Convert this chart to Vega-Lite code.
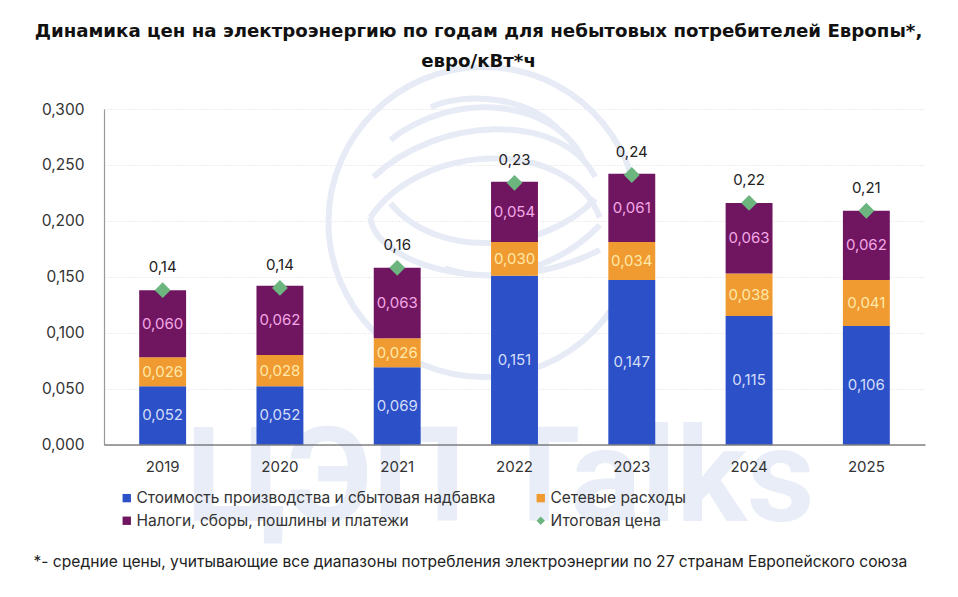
{"$schema":"https://vega.github.io/schema/vega-lite/v6.json","width":821,"height":335.5,"autosize":{"type":"none"},"padding":{"left":104,"top":109,"right":33,"bottom":152.5},"background":"white","config":{"locale":{"number":{"decimal":",","thousands":" ","grouping":[3],"currency":["","€"]}},"view":{"stroke":null},"font":"Inter"},"title":{"text":["Динамика цен на электроэнергию по годам для небытовых потребителей Европы*,","евро/кВт*ч"],"font":"DejaVu Sans","fontSize":18.2,"fontWeight":700,"color":"#111111","anchor":"middle","frame":"group","dx":-36,"offset":-16,"lineHeight":30},"datasets":{"bars":[{"year":"2019","series":"Стоимость производства и сбытовая надбавка","value":0.052,"ord":1},{"year":"2019","series":"Сетевые расходы","value":0.026,"ord":2},{"year":"2019","series":"Налоги, сборы, пошлины и платежи","value":0.06,"ord":3},{"year":"2020","series":"Стоимость производства и сбытовая надбавка","value":0.052,"ord":1},{"year":"2020","series":"Сетевые расходы","value":0.028,"ord":2},{"year":"2020","series":"Налоги, сборы, пошлины и платежи","value":0.062,"ord":3},{"year":"2021","series":"Стоимость производства и сбытовая надбавка","value":0.069,"ord":1},{"year":"2021","series":"Сетевые расходы","value":0.026,"ord":2},{"year":"2021","series":"Налоги, сборы, пошлины и платежи","value":0.063,"ord":3},{"year":"2022","series":"Стоимость производства и сбытовая надбавка","value":0.151,"ord":1},{"year":"2022","series":"Сетевые расходы","value":0.03,"ord":2},{"year":"2022","series":"Налоги, сборы, пошлины и платежи","value":0.054,"ord":3},{"year":"2023","series":"Стоимость производства и сбытовая надбавка","value":0.147,"ord":1},{"year":"2023","series":"Сетевые расходы","value":0.034,"ord":2},{"year":"2023","series":"Налоги, сборы, пошлины и платежи","value":0.061,"ord":3},{"year":"2024","series":"Стоимость производства и сбытовая надбавка","value":0.115,"ord":1},{"year":"2024","series":"Сетевые расходы","value":0.038,"ord":2},{"year":"2024","series":"Налоги, сборы, пошлины и платежи","value":0.063,"ord":3},{"year":"2025","series":"Стоимость производства и сбытовая надбавка","value":0.106,"ord":1},{"year":"2025","series":"Сетевые расходы","value":0.041,"ord":2},{"year":"2025","series":"Налоги, сборы, пошлины и платежи","value":0.062,"ord":3}],"totals":[{"year":"2019","series":"Итоговая цена","total":0.138},{"year":"2020","series":"Итоговая цена","total":0.14},{"year":"2021","series":"Итоговая цена","total":0.158},{"year":"2022","series":"Итоговая цена","total":0.234},{"year":"2023","series":"Итоговая цена","total":0.241},{"year":"2024","series":"Итоговая цена","total":0.216},{"year":"2025","series":"Итоговая цена","total":0.209}]},"encoding":{"x":{"field":"year","type":"nominal","sort":null,"scale":{"domain":["2019","2020","2021","2022","2023","2024","2025"],"paddingInner":0.6,"paddingOuter":0.3},"axis":{"title":"*- средние цены, учитывающие все диапазоны потребления электроэнергии по 27 странам Европейского союза","titleFont":"Inter","titleFontSize":15.6,"titleFontWeight":400,"titleColor":"#222222","titleAnchor":"start","titleX":-71,"titleY":110,"labelAngle":0,"labelFontSize":15,"labelColor":"#333333","labelPadding":15,"ticks":false,"domainColor":"#444444","domainWidth":1.2,"grid":false,"zindex":1}}},"layer":[{"data":{"values":[{"year":"2022","mark":"ЦЭП Talks","level":-0.033}]},"mark":{"type":"text","font":"Roboto","fontWeight":700,"fontSize":132,"color":"#e8edf7","dx":-14,"baseline":"middle","align":"center","clip":false},"encoding":{"y":{"field":"level","type":"quantitative","scale":{"domain":[0,0.3],"nice":false}},"text":{"field":"mark"}}},{"data":{"values":[{"year":"2022","level":0.199}]},"mark":{"type":"point","filled":false,"opacity":1,"stroke":"#e6ebf6","strokeWidth":6,"size":96100,"xOffset":-31,"shape":"M-1,0A1,1,0,1,1,1,0A1,1,0,1,1,-1,0Z M-0.34,-0.74C-0.1,-0.85,0.3,-0.8,0.49,-0.59 M-0.6,-0.53C-0.2,-0.85,0.45,-0.8,0.645,-0.4 M-0.71,-0.29C-0.3,-0.68,0.5,-0.72,0.72,-0.29 M-0.73,-0.03C-0.4,-0.52,0.55,-0.55,0.75,-0.03 M-0.73,-0.03C-0.7,0.28,0.1,0.52,0.75,0.18 M-0.6,-0.12C-0.3,0.25,0.4,0.2,0.72,-0.15 M-0.25,0.3C0.1,0.42,0.5,0.28,0.75,0.02"},"encoding":{"y":{"field":"level","type":"quantitative"}}},{"data":{"name":"bars"},"mark":{"type":"bar"},"encoding":{"y":{"field":"value","type":"quantitative","stack":"zero","scale":{"domain":[0,0.3],"nice":false},"axis":{"title":null,"values":[0,0.05,0.1,0.15,0.2,0.25,0.3],"format":".3f","labelFontSize":15.5,"labelColor":"#333333","labelPadding":20,"ticks":false,"domainColor":"#999999","domainWidth":1.2,"gridColor":"#dddddd","gridDash":[1,2],"gridWidth":1,"grid":true}},"color":{"field":"series","type":"nominal","scale":{"domain":["Стоимость производства и сбытовая надбавка","Налоги, сборы, пошлины и платежи","Сетевые расходы","Итоговая цена"],"range":["#2b50c8","#701660","#f09a32","#6cb57f"]},"legend":{"title":null,"orient":"none","legendX":15,"legendY":381,"columns":2,"columnPadding":37,"rowPadding":6,"labelFontSize":15.5,"labelOffset":2,"labelColor":"#333333","labelFont":"Inter","symbolSize":70,"labelLimit":420,"encoding":{"symbols":{"shape":{"value":{"expr":"datum.value === 'Итоговая цена' ? 'diamond' : 'square'"}}}}}},"order":{"field":"ord"}}},{"data":{"name":"bars"},"mark":{"type":"text","fontSize":15,"baseline":"middle"},"encoding":{"y":{"field":"value","type":"quantitative","stack":"zero","bandPosition":0.5},"text":{"field":"value","type":"quantitative","format":".3f"},"fill":{"field":"series","type":"nominal","scale":{"domain":["Стоимость производства и сбытовая надбавка","Сетевые расходы","Налоги, сборы, пошлины и платежи"],"range":["#d5def8","#ffe9a8","#f3a8e6"]},"legend":null},"order":{"field":"ord"}}},{"data":{"name":"totals"},"mark":{"type":"point","shape":"diamond","filled":true,"size":250,"opacity":1,"color":"#6cb57f"},"encoding":{"y":{"field":"total","type":"quantitative"}}},{"data":{"name":"totals"},"mark":{"type":"text","fontSize":15,"color":"#222222","dy":-23},"encoding":{"y":{"field":"total","type":"quantitative"},"text":{"field":"total","type":"quantitative","format":".2f"}}}]}
